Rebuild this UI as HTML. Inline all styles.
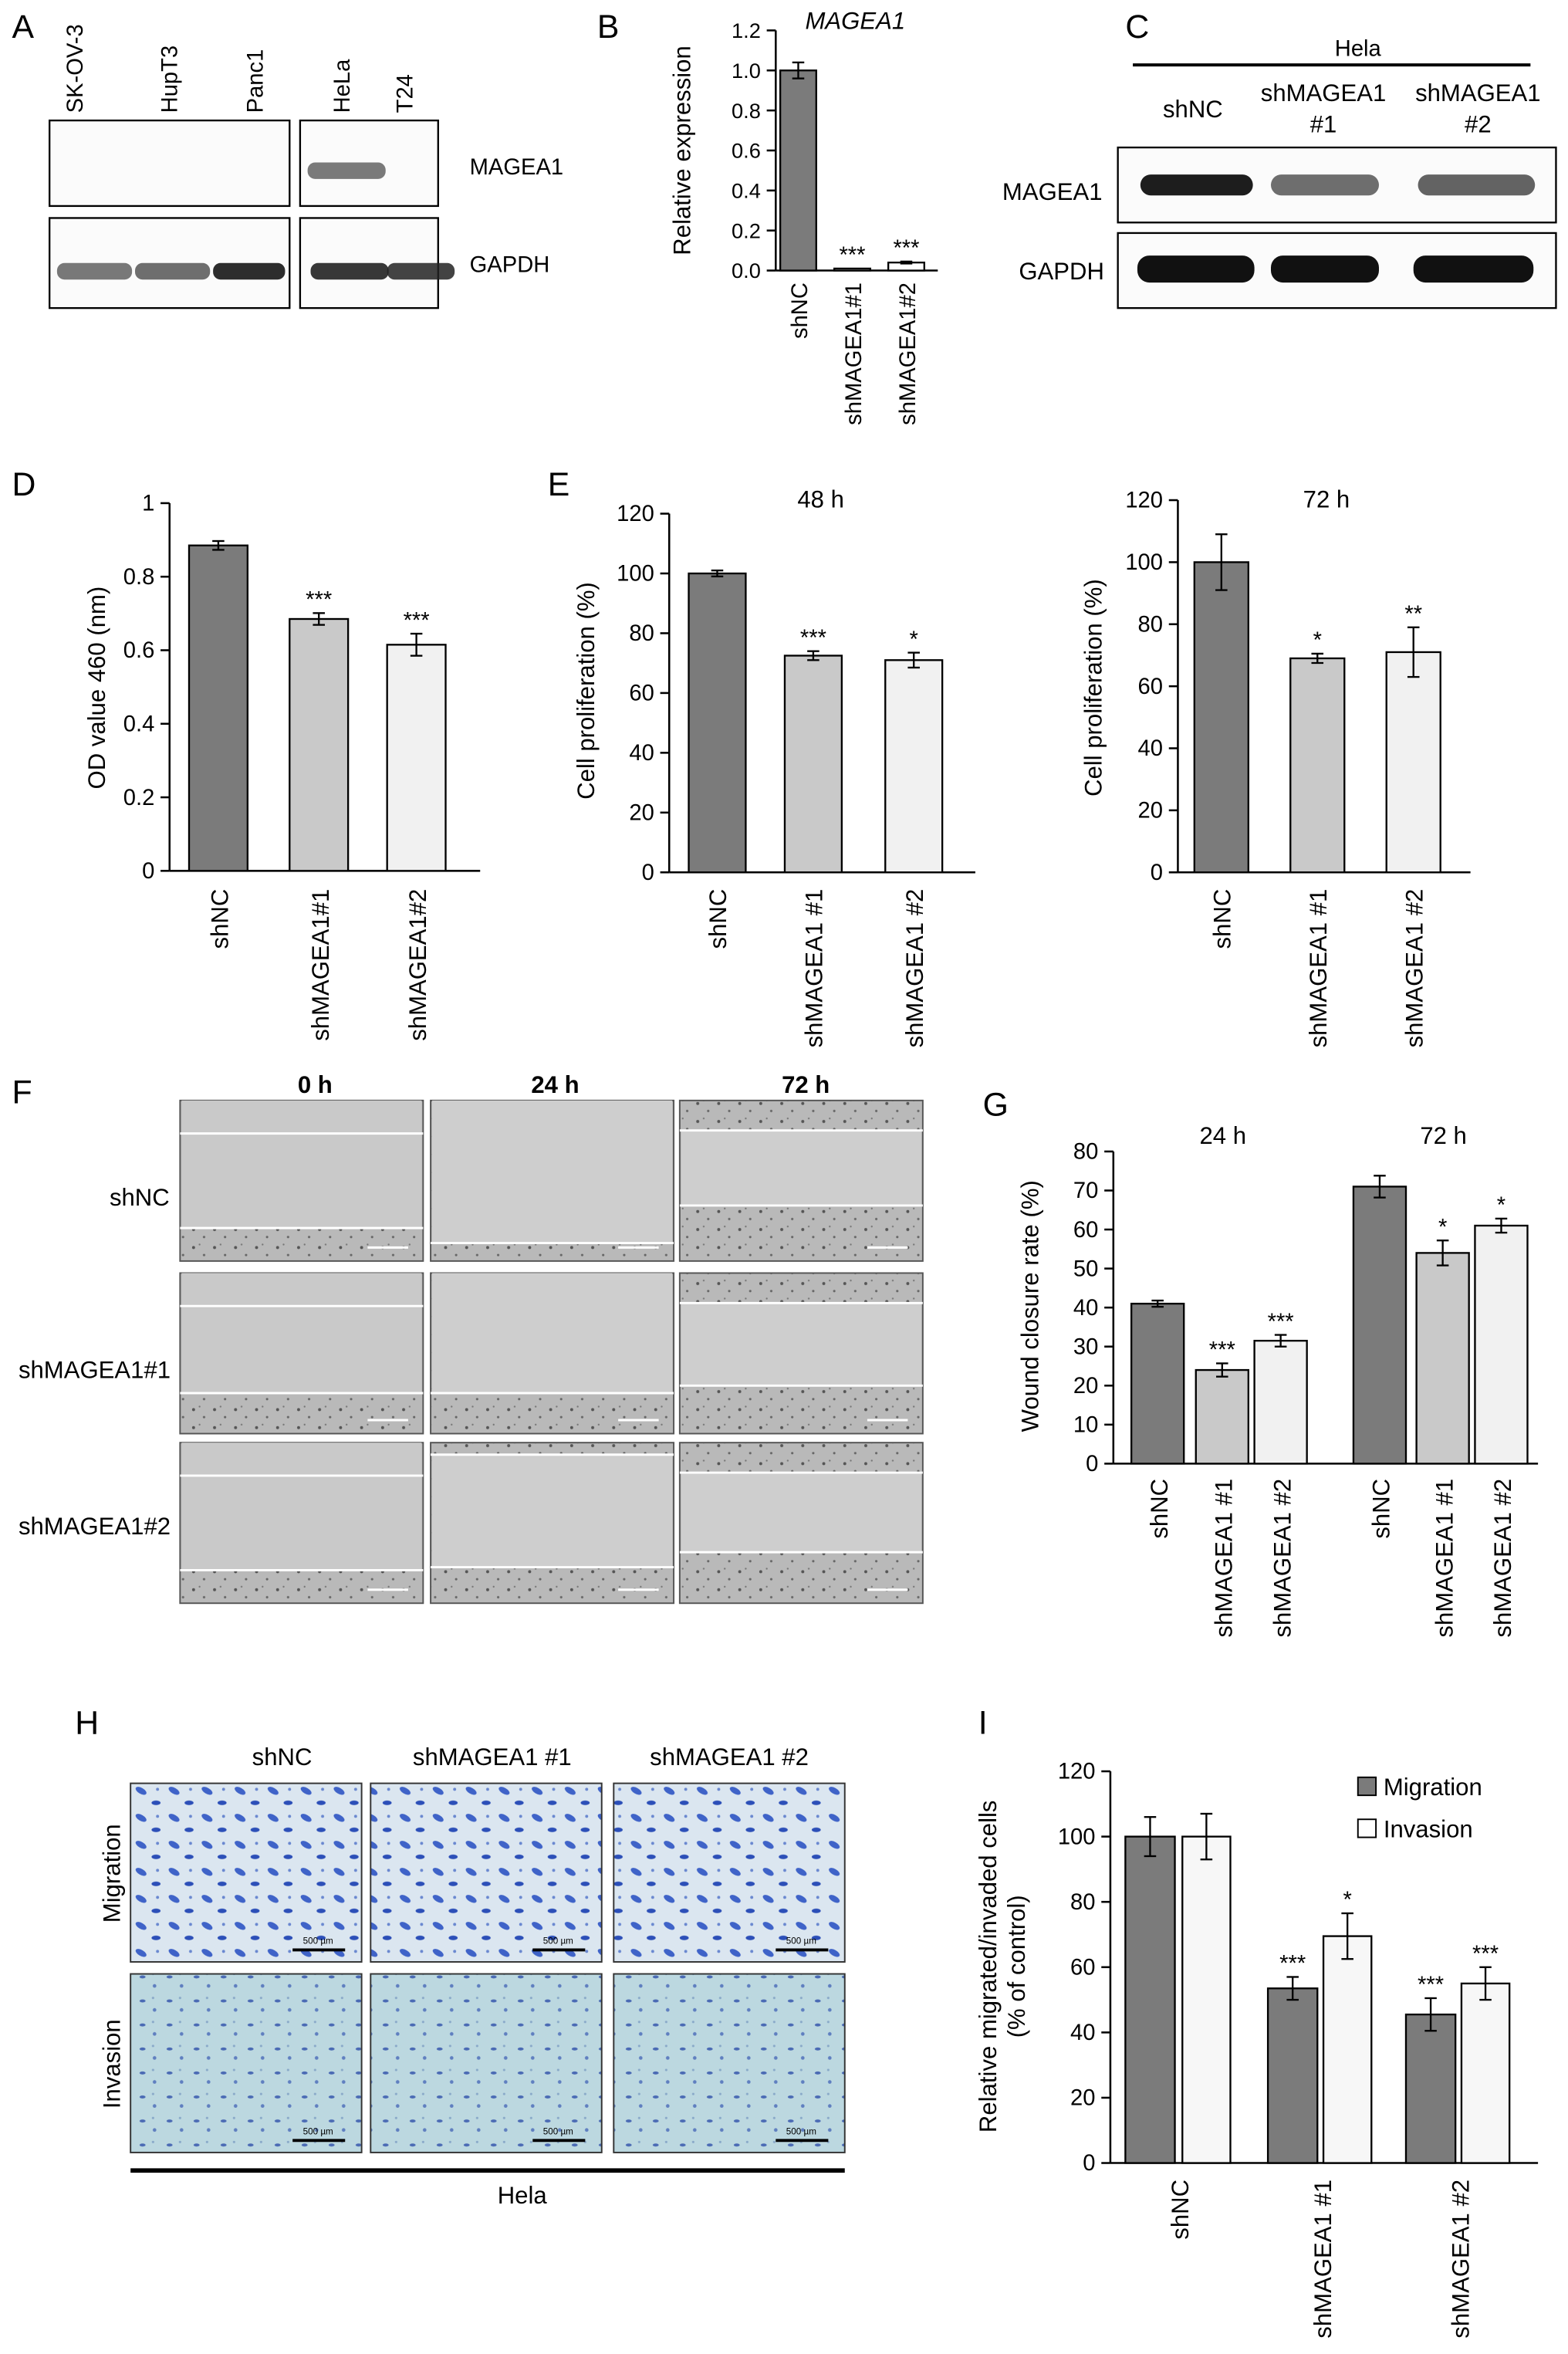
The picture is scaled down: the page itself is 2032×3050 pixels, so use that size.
<!DOCTYPE html>
<html><head><meta charset="utf-8"><style>
html,body{margin:0;padding:0;background:#fff}
svg{display:block;font-family:"Liberation Sans",sans-serif}
</style></head><body>
<svg id="fig" width="2032" height="3050" viewBox="0 0 1045 1568" xmlns="http://www.w3.org/2000/svg">
<defs>
<pattern id="wound" width="14" height="12" patternUnits="userSpaceOnUse">
<rect width="14" height="12" fill="#b9b9b9"/><circle cx="3" cy="3" r="1" fill="#555"/><circle cx="10" cy="8" r="0.8" fill="#666"/><circle cx="7" cy="1" r="0.6" fill="#777"/></pattern>
<pattern id="mig" width="22" height="18" patternUnits="userSpaceOnUse">
<rect width="22" height="18" fill="#dbe6f0"/><ellipse cx="6" cy="5" rx="4" ry="2" fill="#3f63c8" transform="rotate(30 6 5)"/><ellipse cx="16" cy="13" rx="3" ry="1.5" fill="#2c4fb8"/><circle cx="17" cy="4" r="1" fill="#6a88d0"/></pattern>
<pattern id="inv" width="18" height="16" patternUnits="userSpaceOnUse">
<rect width="18" height="16" fill="#bcd8e0"/><ellipse cx="5" cy="5" rx="2" ry="1" fill="#4a6ab4"/><circle cx="13" cy="11" r="1.2" fill="#5f7fc0"/><circle cx="12" cy="3" r="0.8" fill="#88a8c8"/></pattern>
</defs>
<g id="root"></g>
</svg>
<script>
const NS="http://www.w3.org/2000/svg";
const root=document.getElementById('root');
function el(tag,attrs,parent,txt){const e=document.createElementNS(NS,tag);for(const k in attrs)e.setAttribute(k,attrs[k]);if(txt!==undefined)e.textContent=txt;(parent||root).appendChild(e);return e;}
function txt(x,y,s,size,name,extra){const t=el('text',Object.assign({x:x,y:y,'font-size':size},extra||{}),root,s);

return t;}
function rtxt(x,y,s,size,name,anchor){const t=el('text',{x:0,y:0,'font-size':size,'text-anchor':anchor||'end',transform:`translate(${x},${y}) rotate(-90)`},root,s);

return t;}

// ===== Chart data =====
const bCats=["shNC","shMAGEA1#1","shMAGEA1#2"]; const bVals=[1.0,0.01,0.04]; const bErr=[0.04,0,0.005]; const bStars=["","***","***"]; const bTicks=["0.0","0.2","0.4","0.6","0.8","1.0","1.2"];
const dCats=["shNC","shMAGEA1#1","shMAGEA1#2"]; const dVals=[0.885,0.685,0.615]; const dErr=[0.012,0.016,0.03]; const dStars=["","***","***"]; const dTicks=["0","0.2","0.4","0.6","0.8","1"];
const e48Cats=["shNC","shMAGEA1 #1","shMAGEA1 #2"]; const e48Vals=[100,72.5,71]; const e48Err=[1,1.5,2.5]; const e48Stars=["","***","*"];
const e72Cats=["shNC","shMAGEA1 #1","shMAGEA1 #2"]; const e72Vals=[100,69,71]; const e72Err=[9,1.5,8]; const e72Stars=["","*","**"];
const eTicks=["0","20","40","60","80","100","120"];
const gCats=["shNC","shMAGEA1 #1","shMAGEA1 #2","shNC","shMAGEA1 #1","shMAGEA1 #2"]; const gVals=[41,24,31.5,71,54,61]; const gErr=[0.8,1.7,1.5,2.8,3.2,1.8]; const gStars=["","***","***","","*","*"]; const gTicks=["0","10","20","30","40","50","60","70","80"];
const iCats=["shNC","shMAGEA1 #1","shMAGEA1 #2"]; const iMig=[100,53.5,45.5]; const iMigErr=[6,3.5,5]; const iInv=[100,69.5,55]; const iInvErr=[7,7,5];
const iMigStars=["","***","***"]; const iInvStars=["","*","***"]; const iTicks=["0","20","40","60","80","100","120"];

const FILLS=["#7b7b7b","#c9c9c9","#f1f1f1"];

function axis(ax,ytop,ybot,ticks,name,fs){
  const ymax=parseFloat(ticks[ticks.length-1]);
  const y=v=>ybot-(v/ymax)*(ybot-ytop);
  const l=el('line',{x1:ax,y1:ytop,x2:ax,y2:ybot,stroke:'#000','stroke-width':1.3});
  
  
  ticks.forEach(t=>{const v=parseFloat(t);el('line',{x1:ax-6,y1:y(v),x2:ax,y2:y(v),stroke:'#000','stroke-width':1.3});
    txt(ax-10,y(v)+5,t,fs||15,name+'-y-tick',{'text-anchor':'end'});});
  return y;
}
function bar(x,w,v,err,y,fill,star,name){
  const r=el('rect',{x:x,y:y(v),width:w,height:y(0)-y(v),fill:fill,stroke:'#000','stroke-width':1.2});
  
  
  if(err>0){const cx=x+w/2;el('line',{x1:cx,y1:y(v+err),x2:cx,y2:y(v-err),stroke:'#000','stroke-width':1.2});
    el('line',{x1:cx-4,y1:y(v+err),x2:cx+4,y2:y(v+err),stroke:'#000','stroke-width':1.2});
    el('line',{x1:cx-4,y1:y(v-err),x2:cx+4,y2:y(v-err),stroke:'#000','stroke-width':1.2});}
  if(star)txt(x+w/2,y(v+err)-4,star,15,name+'-significance',{'text-anchor':'middle'});
}

// ===== Panel labels =====
[["A",8,25],["B",398,25],["C",750,25],["D",8,330],["E",365,330],["F",8,735],["G",655,743],["H",50,1155],["I",652,1155]].forEach(p=>txt(p[1],p[2],p[0],22,'panel-label-'+p[0].toLowerCase()));

// ===== A: western blots =====
[[33,80,160,57],[200,80,92,57],[33,145,160,60],[200,145,92,60]].forEach((b,i)=>{const r=el('rect',{x:b[0],y:b[1],width:b[2],height:b[3],fill:'#fbfbfb',stroke:'#000','stroke-width':1.2});

});
[["SK-OV-3",55],["HupT3",118],["Panc1",175],["HeLa",233],["T24",275]].forEach(l=>rtxt(l[1],75,l[0],15,'lane-label','start').setAttribute('transform',`translate(${l[1]},75) rotate(-90)`));
el('rect',{x:205,y:108,width:52,height:11,rx:5,fill:'#5a5a5a',opacity:0.8});
[[38,50,0.6],[90,50,0.65],[142,48,0.95],[207,52,0.9],[258,45,0.85]].forEach(b=>el('rect',{x:b[0],y:175,width:b[1],height:11,rx:5,fill:'#222',opacity:b[2]}));
txt(313,116,"MAGEA1",15,'blot-label-magea1');
txt(313,181,"GAPDH",15,'blot-label-gapdh');

// ===== B =====
(function(){const y=axis(517,20,180,bTicks,'chart-b',14);
el('line',{x1:517,y1:180,x2:625,y2:180,stroke:'#000','stroke-width':1.3});
const xs=[520,556,592];
bVals.forEach((v,i)=>{bar(xs[i],24,v,bErr[i],y,i==0?FILLS[0]:'#fff',bStars[i],'bar-b-'+bCats[i]);rtxt(xs[i]+18,188,bCats[i],15,'x-label-b');});
txt(570,19,"MAGEA1",16,'chart-b-title',{'text-anchor':'middle','font-style':'italic'});
rtxt(460,100,"Relative expression",16,'chart-b-y-title','middle');})();

// ===== C =====
txt(905,37,"Hela",15,'cell-line-label',{'text-anchor':'middle'});
el('line',{x1:755,y1:43,x2:1020,y2:43,stroke:'#000','stroke-width':2});
txt(795,78,"shNC",16,'lane-label-c',{'text-anchor':'middle'});
txt(882,67,"shMAGEA1",16,'lane-label-c',{'text-anchor':'middle'});txt(882,88,"#1",16,'lane-label-c',{'text-anchor':'middle'});
txt(985,67,"shMAGEA1",16,'lane-label-c',{'text-anchor':'middle'});txt(985,88,"#2",16,'lane-label-c',{'text-anchor':'middle'});
[[745,98],[745,155]].forEach((b,i)=>{const r=el('rect',{x:b[0],y:b[1],width:292,height:50,fill:'#fbfbfb',stroke:'#000','stroke-width':1.2});

});
[[760,75,0.95],[847,72,0.6],[945,78,0.65]].forEach(b=>el('rect',{x:b[0],y:116,width:b[1],height:14,rx:7,fill:'#111',opacity:b[2]}));
[[758,78],[847,72],[942,80]].forEach(b=>el('rect',{x:b[0],y:170,width:b[1],height:18,rx:8,fill:'#111'}));
txt(668,133,"MAGEA1",16,'blot-label-c-magea1');txt(679,186,"GAPDH",16,'blot-label-c-gapdh');

// ===== D =====
(function(){const y=axis(113,335,580,dTicks,'chart-d');
el('line',{x1:113,y1:580,x2:320,y2:580,stroke:'#000','stroke-width':1.3});
const xs=[126,193,258];
dVals.forEach((v,i)=>{bar(xs[i],39,v,dErr[i],y,FILLS[i],dStars[i],'bar-d-'+i);rtxt(xs[i]+26,592,dCats[i],16,'x-label-d');});
rtxt(70,458,"OD value 460 (nm)",16,'chart-d-y-title','middle');})();

// ===== E 48h =====
(function(){const y=axis(446,342,581,eTicks,'chart-e48');
el('line',{x1:446,y1:581,x2:650,y2:581,stroke:'#000','stroke-width':1.3});
const xs=[459,523,590];
e48Vals.forEach((v,i)=>{bar(xs[i],38,v,e48Err[i],y,FILLS[i],e48Stars[i],'bar-e48-'+i);rtxt(xs[i]+25,592,e48Cats[i],16,'x-label-e48');});
txt(547,338,"48 h",16,'chart-e48-title',{'text-anchor':'middle'});
rtxt(396,460,"Cell proliferation (%)",16,'chart-e48-y-title','middle');})();

// ===== E 72h =====
(function(){const y=axis(785,333,581,eTicks,'chart-e72');
el('line',{x1:785,y1:581,x2:980,y2:581,stroke:'#000','stroke-width':1.3});
const xs=[796,860,924];
e72Vals.forEach((v,i)=>{bar(xs[i],36,v,e72Err[i],y,FILLS[i],e72Stars[i],'bar-e72-'+i);rtxt(xs[i]+24,592,e72Cats[i],16,'x-label-e72');});
txt(884,338,"72 h",16,'chart-e72-title',{'text-anchor':'middle'});
rtxt(734,458,"Cell proliferation (%)",16,'chart-e72-y-title','middle');})();

// ===== F: wound images =====
const fCols=[120,287,453], fRows=[733,848,961];
const gaps=[[[0,85],[0,95],[20,70]],[[0,80],[0,80],[20,75]],[[0,85],[8,83],[20,73]]];
fRows.forEach((ry,r)=>fCols.forEach((cx,c)=>{
  const im=el('rect',{x:cx,y:ry,width:162,height:107,fill:'url(#wound)',stroke:'#555','stroke-width':1});
  
  
  const g=gaps[r][c];
  el('rect',{x:cx+1,y:ry+g[0]+(c==0?0:0),width:160,height:g[1]-g[0],fill:c==0?'#c9c9c9':'#cecece'});
  el('line',{x1:cx,y1:ry+g[0]+(g[0]==0?-1:0),x2:cx+162,y2:ry+g[0],stroke:'#fff','stroke-width':1.5,opacity:g[0]==0?0:1});
  el('line',{x1:cx,y1:ry+g[1],x2:cx+162,y2:ry+g[1],stroke:'#fff','stroke-width':1.5});
  el('line',{x1:cx+125,y1:ry+98,x2:cx+152,y2:ry+98,stroke:'#fff','stroke-width':1.5});
}));
fRows.forEach((ry,r)=>fCols.forEach((cx,c)=>{if(c>0||r>=0){el('line',{x1:cx,y1:ry+ (c==0?(r==0?-1:-1):-1),x2:cx,y2:ry,stroke:'none'});}}));
// white top lines for first column
fRows.forEach(ry=>el('line',{x1:120,y1:ry+22,x2:282,y2:ry+22,stroke:'#fff','stroke-width':1.5}));
[["0 h",210],["24 h",370],["72 h",537]].forEach(h=>txt(h[1],728,h[0],16,'time-header',{'text-anchor':'middle','font-weight':'bold'}));
txt(93,803,"shNC",16,'row-label-f',{'text-anchor':'middle'});
txt(63,918,"shMAGEA1#1",16,'row-label-f',{'text-anchor':'middle'});
txt(63,1022,"shMAGEA1#2",16,'row-label-f',{'text-anchor':'middle'});

// ===== G =====
(function(){const y=axis(742,767,975,gTicks,'chart-g');
el('line',{x1:742,y1:975,x2:1025,y2:975,stroke:'#000','stroke-width':1.3});
const xs=[754,797,836,902,944,983];
gVals.forEach((v,i)=>{bar(xs[i],35,v,gErr[i],y,FILLS[i%3],gStars[i],'bar-g-'+i);rtxt(xs[i]+24,985,gCats[i],16,'x-label-g');});
txt(815,762,"24 h",16,'chart-g-title-24h',{'text-anchor':'middle'});
txt(962,762,"72 h",16,'chart-g-title-72h',{'text-anchor':'middle'});
rtxt(692,870,"Wound closure rate (%)",16,'chart-g-y-title','middle');})();

// ===== H =====
const hCols=[87,247,409];
hCols.forEach((cx,c)=>{[[1188,'mig'],[1315,'inv']].forEach(rw=>{
  const im=el('rect',{x:cx,y:rw[0],width:154,height:119,fill:`url(#${rw[1]})`,stroke:'#333','stroke-width':1});
  
  
  el('line',{x1:cx+108,y1:rw[0]+111,x2:cx+143,y2:rw[0]+111,stroke:'#000','stroke-width':2});
  el('text',{x:cx+125,y:rw[0]+107,'font-size':6,'text-anchor':'middle'},root,'500 µm');
});});
[["shNC",188],["shMAGEA1 #1",328],["shMAGEA1 #2",486]].forEach(h=>txt(h[1],1176,h[0],16,'column-header-h',{'text-anchor':'middle'}));
rtxt(80,1248,"Migration",16,'row-label-migration','middle');
rtxt(80,1375,"Invasion",16,'row-label-invasion','middle');
el('line',{x1:87,y1:1446,x2:563,y2:1446,stroke:'#000','stroke-width':3});
txt(348,1468,"Hela",16,'cell-line-label-h',{'text-anchor':'middle'});

// ===== I =====
(function(){const y=axis(740,1180,1441,iTicks,'chart-i');
el('line',{x1:740,y1:1441,x2:1025,y2:1441,stroke:'#000','stroke-width':1.3});
const xm=[750,845,937], xi=[788,882,974];
iMig.forEach((v,i)=>{bar(xm[i],33,v,iMigErr[i],y,FILLS[0],iMigStars[i],'bar-i-migration-'+i);
  bar(xi[i],32,iInv[i],iInvErr[i],y,'#f7f7f7',iInvStars[i],'bar-i-invasion-'+i);
  rtxt(xm[i]+42,1452,iCats[i],16,'x-label-i');});
const l1=el('rect',{x:905,y:1184,width:12,height:12,fill:FILLS[0],stroke:'#000'});


const l2=el('rect',{x:905,y:1212,width:12,height:12,fill:'#fff',stroke:'#000'});


txt(922,1196,"Migration",16,'legend-entry-migration');
txt(922,1224,"Invasion",16,'legend-entry-invasion');
rtxt(664,1310,"Relative migrated/invaded cells",16,'chart-i-y-title','middle');
rtxt(683,1310,"(% of control)",16,'chart-i-y-title-2','middle');})();
</script>
</body></html>
